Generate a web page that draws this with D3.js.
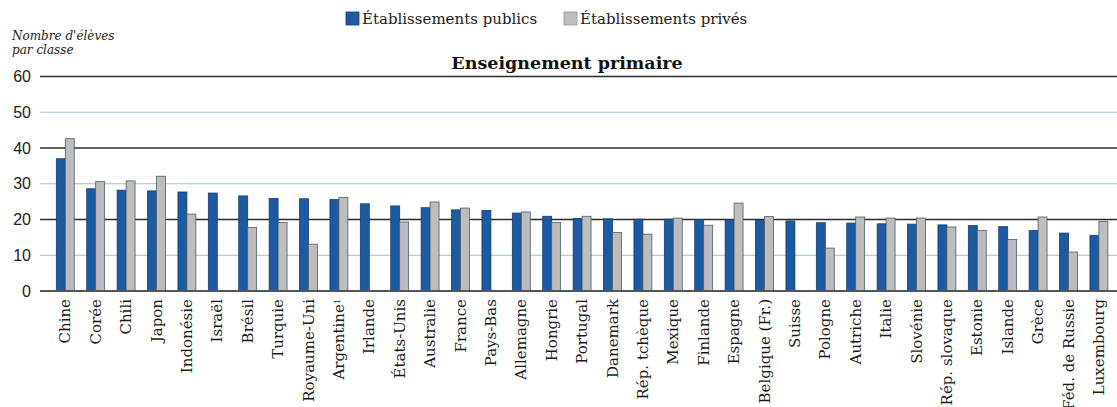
<!DOCTYPE html>
<html>
<head>
<meta charset="utf-8">
<script src="https://cdn.jsdelivr.net/npm/d3@7"></script>
<style>
  body { margin: 0; background: #fff; }
  svg { display: block; }
</style>
</head>
<body>
<div id="chart"></div>
<script>
var countries = ['Chine', 'Corée', 'Chili', 'Japon', 'Indonésie', 'Israël', 'Brésil', 'Turquie',
    'Royaume-Uni', 'Argentine', 'Irlande', 'États-Unis', 'Australie', 'France', 'Pays-Bas',
    'Allemagne', 'Hongrie', 'Portugal', 'Danemark', 'Rép. tchèque', 'Mexique', 'Finlande',
    'Espagne', 'Belgique (Fr.)', 'Suisse', 'Pologne', 'Autriche', 'Italie', 'Slovénie',
    'Rép. slovaque', 'Estonie', 'Islande', 'Grèce', 'Féd. de Russie', 'Luxembourg'];
var footnoted = ['Argentine'];
var publicValues = [37.0, 28.6, 28.2, 28.0, 27.7, 27.4, 26.6, 25.9, 25.8, 25.6, 24.4, 23.8,
    23.3, 22.7, 22.5, 21.8, 20.9, 20.3, 20.2, 20.1, 20.1, 20.0, 19.9, 19.7, 19.6, 19.1, 19.0,
    18.8, 18.7, 18.5, 18.3, 18.0, 16.9, 16.2, 15.5];
var privateValues = [42.6, 30.6, 30.8, 32.1, 21.5, null, 17.8, 19.2, 13.1, 26.2, null, 19.3,
    24.9, 23.2, null, 22.1, 19.2, 20.9, 16.4, 15.9, 20.4, 18.4, 24.6, 20.8, null, 12.0, 20.7,
    20.4, 20.4, 17.9, 16.9, 14.4, 20.7, 10.9, 19.5];
var seriesNames = ['Établissements publics', 'Établissements privés'];
var yTicks = [0, 10, 20, 30, 40, 50, 60];

var width = 1117;
var height = 407;
var BLUE = '#1c5ba3';
var GREY = '#bdbdbd';

var svg = d3.select('#chart').append('svg')
    .attr('width', width)
    .attr('height', height);

var x = d3.scaleBand()
    .domain(countries)
    .range([50.1, 1114.1])
    .paddingInner(0.41)
    .paddingOuter(0.205);

var xSub = d3.scaleBand()
    .domain(['pub', 'priv'])
    .range([0, x.bandwidth()]);

var y = d3.scaleLinear()
    .domain([0, 60])
    .range([291, 76.5]);

// gridlines: dark on 20/40/60, light blue on the others
svg.append('g').selectAll('line')
    .data(yTicks.filter((d) => d > 0))
    .enter()
    .append('line')
    .attr('x1', 40)
    .attr('x2', width)
    .attr('y1', (d) => y(d))
    .attr('y2', (d) => y(d))
    .attr('stroke', (d) => d % 20 === 0 ? '#2b2b2b' : '#9dc0d6')
    .attr('stroke-width', (d) => d % 20 === 0 ? 1.3 : 1.2);

// y tick labels
svg.append('g').selectAll('text')
    .data(yTicks)
    .enter()
    .append('text')
    .attr('x', 31)
    .attr('y', (d) => y(d))
    .attr('dy', '0.35em')
    .attr('text-anchor', 'end')
    .style('font-family', '"Liberation Sans", Arial, sans-serif')
    .style('font-size', '16px')
    .attr('fill', '#222')
    .text((d) => d);

// bars
var groups = svg.append('g').selectAll('g')
    .data(countries)
    .enter()
    .append('g')
    .attr('transform', (d) => `translate(${x(d)},0)`);

groups.append('rect')
    .attr('x', xSub('pub'))
    .attr('width', xSub.bandwidth())
    .attr('y', (d, i) => y(publicValues[i]))
    .attr('height', (d, i) => y(0) - y(publicValues[i]))
    .attr('fill', BLUE)
    .attr('stroke', '#173f66')
    .attr('stroke-width', 0.8);

groups.filter((d, i) => privateValues[i] != null)
    .append('rect')
    .attr('x', xSub('priv'))
    .attr('width', xSub.bandwidth())
    .attr('y', (d) => y(privateValues[countries.indexOf(d)]))
    .attr('height', (d) => y(0) - y(privateValues[countries.indexOf(d)]))
    .attr('fill', GREY)
    .attr('stroke', '#4d5e66')
    .attr('stroke-width', 0.8);

// zero axis
svg.append('line')
    .attr('x1', 40)
    .attr('x2', width)
    .attr('y1', y(0))
    .attr('y2', y(0))
    .attr('stroke', '#555')
    .attr('stroke-width', 2);

// x labels, rotated
var labels = svg.append('g').selectAll('text')
    .data(countries)
    .enter()
    .append('text')
    .attr('transform', (d) => `translate(${x(d) + x.bandwidth() / 2 + 5},299)rotate(-90)`)
    .attr('text-anchor', 'end')
    .style('font-family', '"DejaVu Serif", serif')
    .style('font-size', '15px')
    .attr('fill', '#1a1a1a')
    .text((d) => d);

labels.filter((d) => footnoted.indexOf(d) > -1)
    .append('tspan')
    .attr('dy', '-0.5em')
    .style('font-size', '8px')
    .text('1');

// title
svg.append('text')
    .attr('x', 567)
    .attr('y', 69)
    .attr('text-anchor', 'middle')
    .style('font-family', '"DejaVu Serif", serif')
    .style('font-weight', 'bold')
    .style('font-size', '17.5px')
    .attr('fill', '#111')
    .text('Enseignement primaire');

// y axis caption
var caption = svg.append('text')
    .style('font-family', '"DejaVu Serif", serif')
    .style('font-style', 'italic')
    .style('font-size', '12px')
    .attr('fill', '#222');
caption.append('tspan').attr('x', 12).attr('y', 40).text("Nombre d'élèves");
caption.append('tspan').attr('x', 12).attr('y', 54).text('par classe');

// legend
var legend = svg.append('g');
var legendX = [346, 564];
var legendColors = [[BLUE, '#173f66'], [GREY, '#8a9aa2']];
seriesNames.forEach((name, i) => {
    legend.append('rect')
        .attr('x', legendX[i])
        .attr('y', 12)
        .attr('width', 13)
        .attr('height', 13)
        .attr('fill', legendColors[i][0])
        .attr('stroke', legendColors[i][1])
        .attr('stroke-width', 0.8);
    legend.append('text')
        .attr('x', legendX[i] + 16)
        .attr('y', 24)
        .style('font-family', '"DejaVu Serif", serif')
        .style('font-size', '15px')
        .attr('fill', '#1a1a1a')
        .text(name);
});
</script>
</body>
</html>
